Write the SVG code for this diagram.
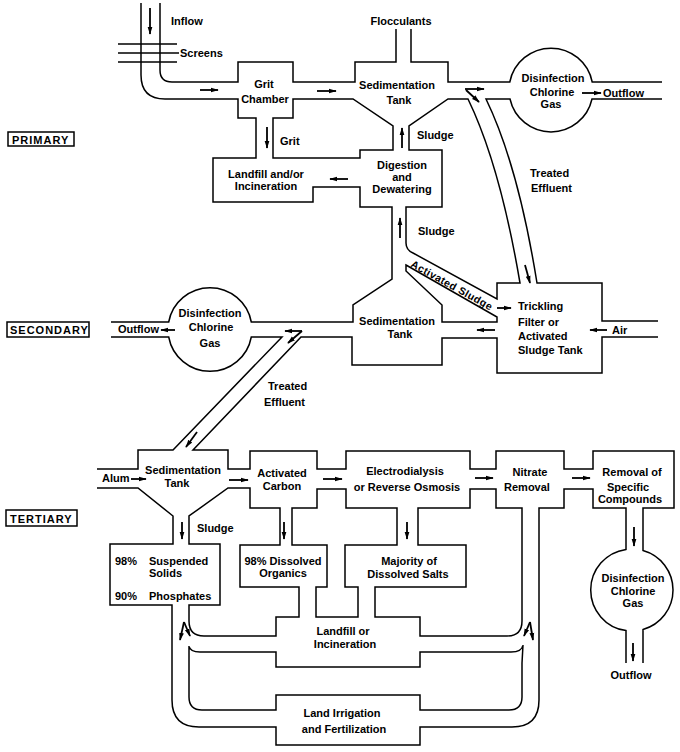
<svg xmlns="http://www.w3.org/2000/svg" width="680" height="752" viewBox="0 0 680 752">
<defs>
<marker id="ah" viewBox="0 0 10 10" refX="9" refY="5" markerWidth="8" markerHeight="8" markerUnits="userSpaceOnUse" orient="auto"><path d="M0,2 L10,5 L0,8 Z" fill="#000"/></marker>
<style>
.w{fill:none;stroke:#000;stroke-width:1.5;stroke-linejoin:miter}
.a{fill:none;stroke:#000;stroke-width:1.8;marker-end:url(#ah)}
text{font-family:"Liberation Sans",Arial,sans-serif;font-weight:bold;font-size:11px;fill:#000}
.m{text-anchor:middle}
.lb{letter-spacing:1px}
.bx{fill:none;stroke:#000;stroke-width:1.5}
</style>
</defs>
<rect width="680" height="752" fill="#fff"/>

<g id="walls">
<path class="w" d="M141,3 L141,75 Q141,99 165,99 L238,99 L238,118 L256,118 L256,158 L213,158 L213,202 L313,202 L313,187 L360,187 L360,207 L392,207 L392,279 L353,305 L353,322 L251.3,322 A42,42 0 0,0 168.7,322 L111,322"/>
<path class="w" d="M160,3 L160,70 Q160,82 172,82 L238,82 L238,62 L293,62 L293,82 L355,82 L355,62 L396,62 L396,29"/>
<path class="w" d="M411,29 L411,62 L448,62 L448,82 L509.8,82 A42,42 0 0,1 592.2,82 L662,82"/>
<path class="w" d="M662,99 L592,99 A42,42 0 0,1 510,99 L486,99 Q518,165 537,283 L602,283 L602,321 L658,321"/>
<path class="w" d="M468,99 L448,99 L409,126 L409,150 L442,150 L442,207 L406,207 L406,243 Q406,250 413,253 L497,299 L497,283 L520,283 Q500,165 468,99 Z"/>
<path class="w" d="M293,99 L293,118 L273,118 L273,158 L360,158 L360,150 L393,150 L393,126 L353,99 Z"/>
<path class="w" d="M406,265 L497,317 L497,322 L442,322 L442,305 L406,271 Z"/>
<path class="w" d="M658,337 L602,337 L602,373 L497,373 L497,338 L442,338 L442,365 L352,365 L352,337 L301,337 L193,450 L228,450 L228,469 L250,469 L250,451 L317,451 L317,469 L346,469 L346,451 L470,451 L470,469 L496,469 L496,451 L564,451 L564,469 L593,469 L593,451 L674,451 L674,508 L643,508 L643,550.5 A41,41 0 0,1 643,629.5 L643,663"/>
<path class="w" d="M111,337 L168.7,337 A42,42 0 0,0 251.3,337 L282,337 L173,450 L138,450 L138,469 L97,469"/>
<path class="w" d="M97,488 L138,488 L173,516 L173,544 L110,544 L110,605 L172,605 L172,700 Q172,727 199,727 L276,727 L276,745 L420,745 L420,727 L512,727 Q539,727 539,700 L539,508 L564,508 L564,489 L593,489 L593,508 L626,508 L626,549.4 A41,41 0 0,0 626,630.6 L626,663"/>
<path class="w" d="M189,544 L189,516 L228,488 L250,488 L250,508 L280,508 L280,545 L240,545 L240,587 L299,587 L299,617 L276,617 L276,636 L204,636 Q189,636 189,621 L189,605 L220,605 L220,544 Z"/>
<path class="w" d="M316,587 L327,587 L327,545 L292,545 L292,508 L317,508 L317,489 L346,489 L346,508 L397,508 L397,545 L345,545 L345,587 L358,587 L358,617 L316,617 Z"/>
<path class="w" d="M375,587 L466,587 L466,545 L418,545 L418,508 L470,508 L470,489 L496,489 L496,508 L522,508 L522,621 Q522,636 507,636 L420,636 L420,617 L375,617 Z"/>
<path class="w" d="M276,652 L276,667 L420,667 L420,652 L511,652 Q522,652 523,645 L522,663 L522,697 Q522,710 509,710 L420,710 L420,695 L276,695 L276,710 L202,710 Q189,710 189,697 L189,662 L189,646 Q190,652 200,652 Z"/>
<path class="w" d="M118,44 L177,44 M118,53 L179,53 M118,62 L177,62"/>
</g>

<g id="labels">
<g id="primary"><rect class="bx" x="8" y="132" width="66" height="14"/><text class="lb" x="12" y="143.5">PRIMARY</text></g>
<g id="secondary"><rect class="bx" x="7" y="322" width="82" height="15"/><text class="lb" x="10" y="334">SECONDARY</text></g>
<g id="tertiary"><rect class="bx" x="6" y="510" width="71" height="16"/><text class="lb" x="10" y="522.5">TERTIARY</text></g>
</g>

<g id="inflow"><text x="171" y="25">Inflow</text></g>
<g id="screens"><text x="180" y="57">Screens</text></g>
<g id="flocculants"><text class="m" x="401" y="25">Flocculants</text></g>
<g id="grit-chamber"><text class="m" x="264" y="88">Grit</text><text class="m" x="265" y="103">Chamber</text></g>
<g id="sed-tank-1"><text class="m" x="397" y="89">Sedimentation</text><text class="m" x="399" y="104">Tank</text></g>
<g id="disinfection-1"><text class="m" x="553" y="82">Disinfection</text><text class="m" x="552" y="95.5">Chlorine</text><text class="m" x="551" y="108">Gas</text></g>
<g id="outflow-1"><text x="603" y="97">Outflow</text></g>
<g id="grit-label"><text x="280" y="145">Grit</text></g>
<g id="sludge-1"><text x="417" y="139">Sludge</text></g>
<g id="landfill-1"><text class="m" x="266" y="178">Landfill and/or</text><text class="m" x="266" y="190">Incineration</text></g>
<g id="digestion"><text class="m" x="402" y="169">Digestion</text><text class="m" x="402" y="181">and</text><text class="m" x="402" y="193">Dewatering</text></g>
<g id="treated-1"><text x="530" y="177">Treated</text><text x="531" y="192">Effluent</text></g>

<g id="sludge-2"><text x="418" y="235">Sludge</text></g>
<g id="activated-sludge"><text class="m" transform="translate(452,285) rotate(29)" x="0" y="4" style="letter-spacing:0.4px;font-size:10.5px">Activated Sludge</text></g>
<g id="sed-tank-2"><text class="m" x="397" y="325">Sedimentation</text><text class="m" x="400" y="338">Tank</text></g>
<g id="trickling"><text x="518" y="310">Trickling</text><text x="518" y="326">Filter or</text><text x="518" y="340">Activated</text><text x="518" y="354">Sludge Tank</text></g>
<g id="air"><text x="612" y="334">Air</text></g>
<g id="disinfection-2"><text class="m" x="210" y="317">Disinfection</text><text class="m" x="211" y="331">Chlorine</text><text class="m" x="210" y="347">Gas</text></g>
<g id="outflow-2"><text x="118" y="333">Outflow</text></g>
<g id="treated-2"><text x="268" y="390">Treated</text><text x="264" y="406">Effluent</text></g>

<g id="alum"><text x="102" y="482">Alum</text></g>
<g id="sed-tank-3"><text class="m" x="183" y="474">Sedimentation</text><text class="m" x="177" y="487">Tank</text></g>
<g id="sludge-3"><text x="197" y="532">Sludge</text></g>
<g id="activated-carbon"><text class="m" x="282" y="477">Activated</text><text class="m" x="282" y="490">Carbon</text></g>
<g id="electrodialysis"><text class="m" x="405" y="475">Electrodialysis</text><text class="m" x="407" y="491">or Reverse Osmosis</text></g>
<g id="nitrate"><text class="m" x="530" y="476">Nitrate</text><text class="m" x="527" y="491">Removal</text></g>
<g id="removal"><text class="m" x="632" y="476">Removal of</text><text class="m" x="628" y="491">Specific</text><text class="m" x="630" y="503">Compounds</text></g>
<g id="suspended"><text x="115" y="565">98%</text><text x="149" y="565">Suspended</text><text x="149" y="577">Solids</text><text x="115" y="600">90%</text><text x="149" y="600">Phosphates</text></g>
<g id="dissolved-organics"><text class="m" x="283" y="565">98% Dissolved</text><text class="m" x="283" y="577">Organics</text></g>
<g id="dissolved-salts"><text class="m" x="409" y="565">Majority of</text><text class="m" x="408" y="578">Dissolved Salts</text></g>
<g id="landfill-3"><text class="m" x="343" y="635">Landfill or</text><text class="m" x="345" y="648">Incineration</text></g>
<g id="irrigation"><text class="m" x="342" y="717">Land Irrigation</text><text class="m" x="344" y="733">and Fertilization</text></g>
<g id="disinfection-3"><text class="m" x="633" y="582">Disinfection</text><text class="m" x="633" y="595">Chlorine</text><text class="m" x="633" y="607">Gas</text></g>
<g id="outflow-3"><text class="m" x="631" y="679">Outflow</text></g>

<g id="connectors">
<path class="a" d="M150,8 L150,34"/>
<path class="a" d="M200,90 L218,90"/>
<path class="a" d="M317,91 L336,91"/>
<path class="a" d="M465,89 L484,89"/>
<path class="a" d="M466,90 L479,102"/>
<path class="a" d="M582,93 L601,93"/>
<path class="a" d="M267,127 L267,148"/>
<path class="a" d="M402,148 L402,128"/>
<path class="a" d="M348,179 L330,179"/>
<path class="a" d="M400,238 L400,218"/>
<path class="a" d="M497,308 L511,308"/>
<path class="a" d="M525,265 L530,283"/>
<path class="a" d="M607,330 L590,330"/>
<path class="a" d="M495,330 L477,330"/>
<path class="a" d="M302,331 L285,331"/>
<path class="a" d="M302,331 L288,343"/>
<path class="a" d="M175,330 L161,330"/>
<path class="a" d="M197,432 L186,447"/>
<path class="a" d="M131,479 L146,479"/>
<path class="a" d="M229,480 L248,480"/>
<path class="a" d="M323,479 L342,479"/>
<path class="a" d="M475,478 L493,478"/>
<path class="a" d="M572,478 L590,478"/>
<path class="a" d="M182,522 L182,539"/>
<path class="a" d="M284,522 L284,539"/>
<path class="a" d="M407,522 L407,539"/>
<path class="a" d="M634,527 L634,546"/>
<path class="a" d="M633,643 L633,661"/>
<path class="a" d="M184,622 L180,640"/>
<path class="a" d="M184,622 L190,636"/>
<path class="a" d="M530,622 L533,640"/>
<path class="a" d="M530,622 L524,636"/>
</g>
</svg>
